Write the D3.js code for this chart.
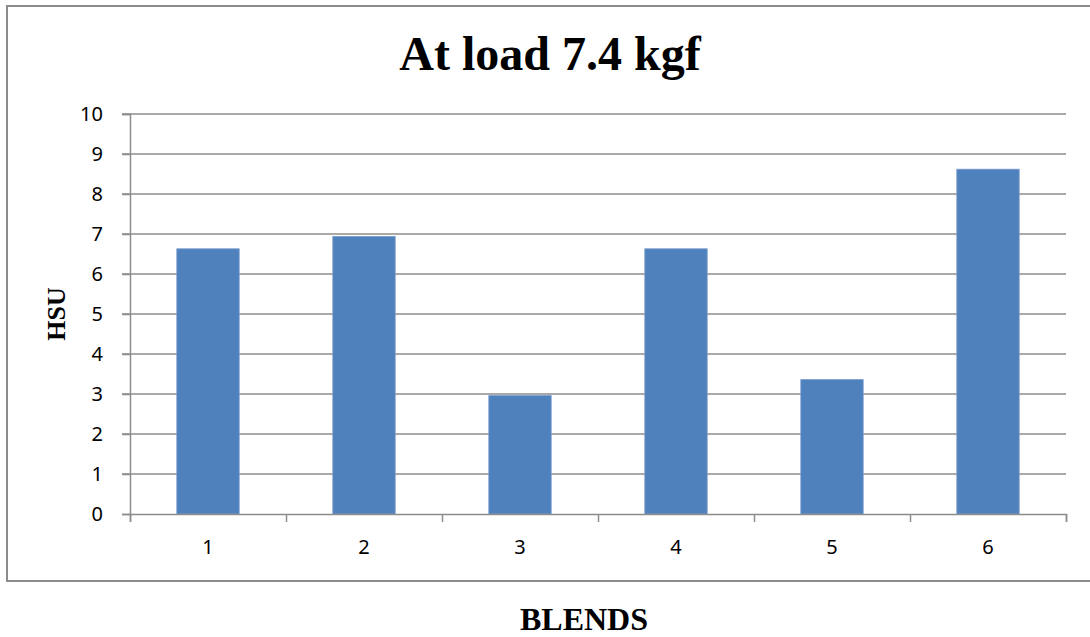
<!DOCTYPE html>
<html>
<head>
<meta charset="utf-8">
<script src="https://cdnjs.cloudflare.com/ajax/libs/d3/7.8.5/d3.min.js"></script>
<style>
    body { margin: 0; background: #fff; }
    .tick text { font-family: "Noto Sans", sans-serif; font-size: 20px; fill: #000; }
    .serif { font-family: "Liberation Serif", "Times New Roman", serif; font-weight: bold; fill: #000; }
</style>
</head>
<body>
<div id="chart"></div>
<script>
// chart values
var blends = ["1", "2", "3", "4", "5", "6"];
var hsu = [6.63, 6.94, 2.96, 6.63, 3.36, 8.62];
var yTicks = [0, 1, 2, 3, 4, 5, 6, 7, 8, 9, 10];

var svgWidth = 1090;
var svgHeight = 637;

var margin = {
    top: 114,
    right: 24,
    bottom: 123,
    left: 130
};

var width = svgWidth - margin.left - margin.right;
var height = svgHeight - margin.top - margin.bottom;

var svg = d3.select("#chart")
    .append("svg")
    .attr("width", svgWidth)
    .attr("height", svgHeight);

// outer chart frame (right side runs off the picture)
svg.append("rect")
    .attr("x", 7)
    .attr("y", 6)
    .attr("width", 1100)
    .attr("height", 575)
    .attr("fill", "none")
    .attr("stroke", "#8c8c8c")
    .attr("stroke-width", 2);

var chartGroup = svg.append("g")
    .attr("transform", `translate(${margin.left}, ${margin.top})`);

// scales
var xBandScale = d3.scaleBand()
    .domain(blends)
    .range([0, width])
    .paddingInner(0.6)
    .paddingOuter(0.3);

var xEdgeScale = d3.scaleLinear()
    .domain([0, blends.length])
    .range([0, width]);

var yLinearScale = d3.scaleLinear()
    .domain([0, 10])
    .range([height, 0]);

// gridlines
chartGroup.append("g")
    .selectAll("line")
    .data(yTicks.slice(1))
    .enter()
    .append("line")
    .attr("x1", -8)
    .attr("x2", width)
    .attr("y1", d => yLinearScale(d))
    .attr("y2", d => yLinearScale(d))
    .attr("stroke", "#8c8c8c")
    .attr("stroke-width", 1.5);

// bars
chartGroup.selectAll(".bar")
    .data(hsu)
    .enter()
    .append("rect")
    .classed("bar", true)
    .attr("x", (d, i) => xBandScale(blends[i]))
    .attr("y", d => yLinearScale(d))
    .attr("width", xBandScale.bandwidth())
    .attr("height", d => height - yLinearScale(d))
    .attr("fill", "#4f81bd")
    .attr("stroke", "#7a9ccc")
    .attr("stroke-width", 0.8);

// y axis
var leftAxis = d3.axisLeft(yLinearScale)
    .tickValues(yTicks)
    .tickSize(8)
    .tickPadding(19);

var yAxis = chartGroup.append("g")
    .call(leftAxis);
yAxis.select(".domain").attr("stroke", "#8c8c8c").attr("stroke-width", 1.5);
yAxis.selectAll(".tick line").attr("stroke", "#8c8c8c").attr("stroke-width", 1.5);

// x axis: ticks on category edges, labels in the middle
var edgeAxis = d3.axisBottom(xEdgeScale)
    .tickValues(d3.range(0, blends.length + 1))
    .tickFormat("")
    .tickSize(8);

var xAxis = chartGroup.append("g")
    .attr("transform", `translate(0, ${height})`)
    .call(edgeAxis);
xAxis.select(".domain").attr("stroke", "#8c8c8c").attr("stroke-width", 1.5);
xAxis.selectAll(".tick line").attr("stroke", "#8c8c8c").attr("stroke-width", 1.5);

var bottomAxis = d3.axisBottom(xBandScale)
    .tickSize(0)
    .tickPadding(26);

var xLabels = chartGroup.append("g")
    .attr("transform", `translate(0, ${height})`)
    .call(bottomAxis);
xLabels.select(".domain").remove();

// title
svg.append("text")
    .classed("serif", true)
    .attr("x", 550)
    .attr("y", 70)
    .attr("text-anchor", "middle")
    .attr("font-size", "48px")
    .text("At load 7.4 kgf");

// y axis label
svg.append("text")
    .classed("serif", true)
    .attr("transform", "translate(65, 314) rotate(-90)")
    .attr("text-anchor", "middle")
    .attr("font-size", "26px")
    .text("HSU");

// x axis label
svg.append("text")
    .classed("serif", true)
    .attr("x", 584)
    .attr("y", 630)
    .attr("text-anchor", "middle")
    .attr("font-size", "32px")
    .text("BLENDS");
</script>
</body>
</html>
